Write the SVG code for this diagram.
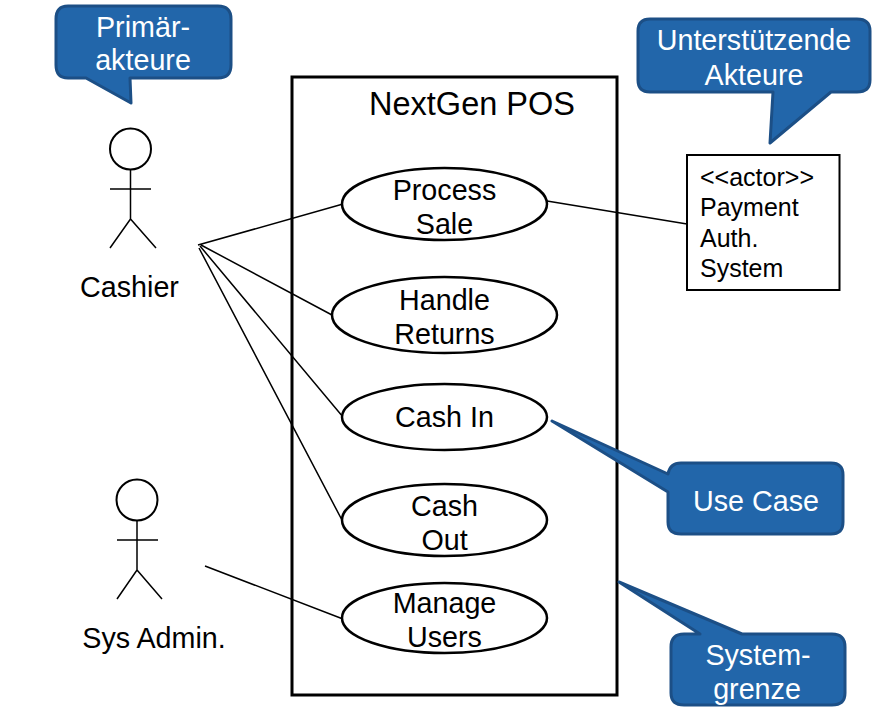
<svg xmlns="http://www.w3.org/2000/svg" width="875" height="717" viewBox="0 0 875 717">
<style>
text{font-family:"Liberation Sans",Arial,sans-serif;font-size:28.700px;fill:#000;text-anchor:middle}
.w{fill:#fff}
.c{fill:#2266aa;stroke:#1c4f86;stroke-width:3;stroke-linejoin:round}
.u{fill:#fff;stroke:#000;stroke-width:2.500}
.l{fill:none;stroke:#000;stroke-width:1.500}
.a{font-size:25px;text-anchor:start}
</style>
<rect width="875" height="717" fill="#fff"/>
<g id="system"><rect x="292" y="77" width="325" height="618" fill="#fff" stroke="#000" stroke-width="3"/><text x="472" y="115" style="font-size:32.500px">NextGen POS</text></g>
<g id="connectors" class="l">
<path d="M198 245L343 204M201 245L332 315M200 246L343 417M199 248L343 522M205 566L343 619M547 201L687 224"/>
</g>
<g id="uc1"><ellipse class="u" cx="444.500" cy="204" rx="102.500" ry="36"/><text x="444.500" y="200">Process</text><text x="444.500" y="234">Sale</text></g>
<g id="uc2"><ellipse class="u" cx="444.500" cy="315" rx="112.500" ry="38"/><text x="444.500" y="310">Handle</text><text x="444.500" y="344">Returns</text></g>
<g id="uc3"><ellipse class="u" cx="444.500" cy="417" rx="102.500" ry="33"/><text x="444.500" y="426.500">Cash In</text></g>
<g id="uc4"><ellipse class="u" cx="444.500" cy="520" rx="102.500" ry="36"/><text x="444.500" y="516">Cash</text><text x="444.500" y="550">Out</text></g>
<g id="uc5"><ellipse class="u" cx="444.500" cy="618" rx="102.500" ry="35"/><text x="444.500" y="613">Manage</text><text x="444.500" y="647">Users</text></g>
<g id="cashier"><circle cx="130.500" cy="149" r="20.500" fill="#fff" stroke="#000" stroke-width="2"/><path class="l" d="M130.500 170V219M110 189H151M110 248L130.500 219L156 248"/><text x="129.500" y="297">Cashier</text></g>
<g id="sysadmin"><circle cx="137" cy="500" r="20.500" fill="#fff" stroke="#000" stroke-width="2"/><path class="l" d="M137 521V570M117 540H158M117 599L137 570L162 599"/><text x="154" y="647.500">Sys Admin.</text></g>
<g id="payment"><rect x="687" y="155" width="152.500" height="135" fill="#fff" stroke="#000" stroke-width="2"/><text class="a" x="700" y="186">&lt;&lt;actor&gt;&gt;</text><text class="a" x="700" y="215.500">Payment</text><text class="a" x="700" y="246.500">Auth.</text><text class="a" x="700" y="276.500">System</text></g>
<g id="callout-primary"><path class="c" d="M68 6H218Q231 6 231 19V65Q231 78 218 78H130L131 103L86 78H68Q56 78 56 65V19Q56 6 68 6Z"/><text class="w" x="143" y="37">Primär-</text><text class="w" x="143" y="70">akteure</text></g>
<g id="callout-support"><path class="c" d="M650 19H857Q870 19 870 31V80Q870 92 857 92H831L770 143L773 92H650Q638 92 638 80V31Q638 19 650 19Z"/><text class="w" x="754" y="50">Unterstützende</text><text class="w" x="754" y="84.500">Akteure</text></g>
<g id="callout-usecase"><path class="c" d="M681 463H831Q843 463 843 475V522Q843 534 831 534H681Q668 534 668 522V492L552 421L668 474Q670 463 681 463Z"/><text class="w" x="756" y="510.500">Use Case</text></g>
<g id="callout-boundary"><path class="c" d="M684 634H700L619 582L742 634H832Q845 634 845 647V693Q845 705 832 705H684Q671 705 671 693V647Q671 634 684 634Z"/><text class="w" x="758" y="664.500">System-</text><text class="w" x="757" y="698.500">grenze</text></g>
</svg>
